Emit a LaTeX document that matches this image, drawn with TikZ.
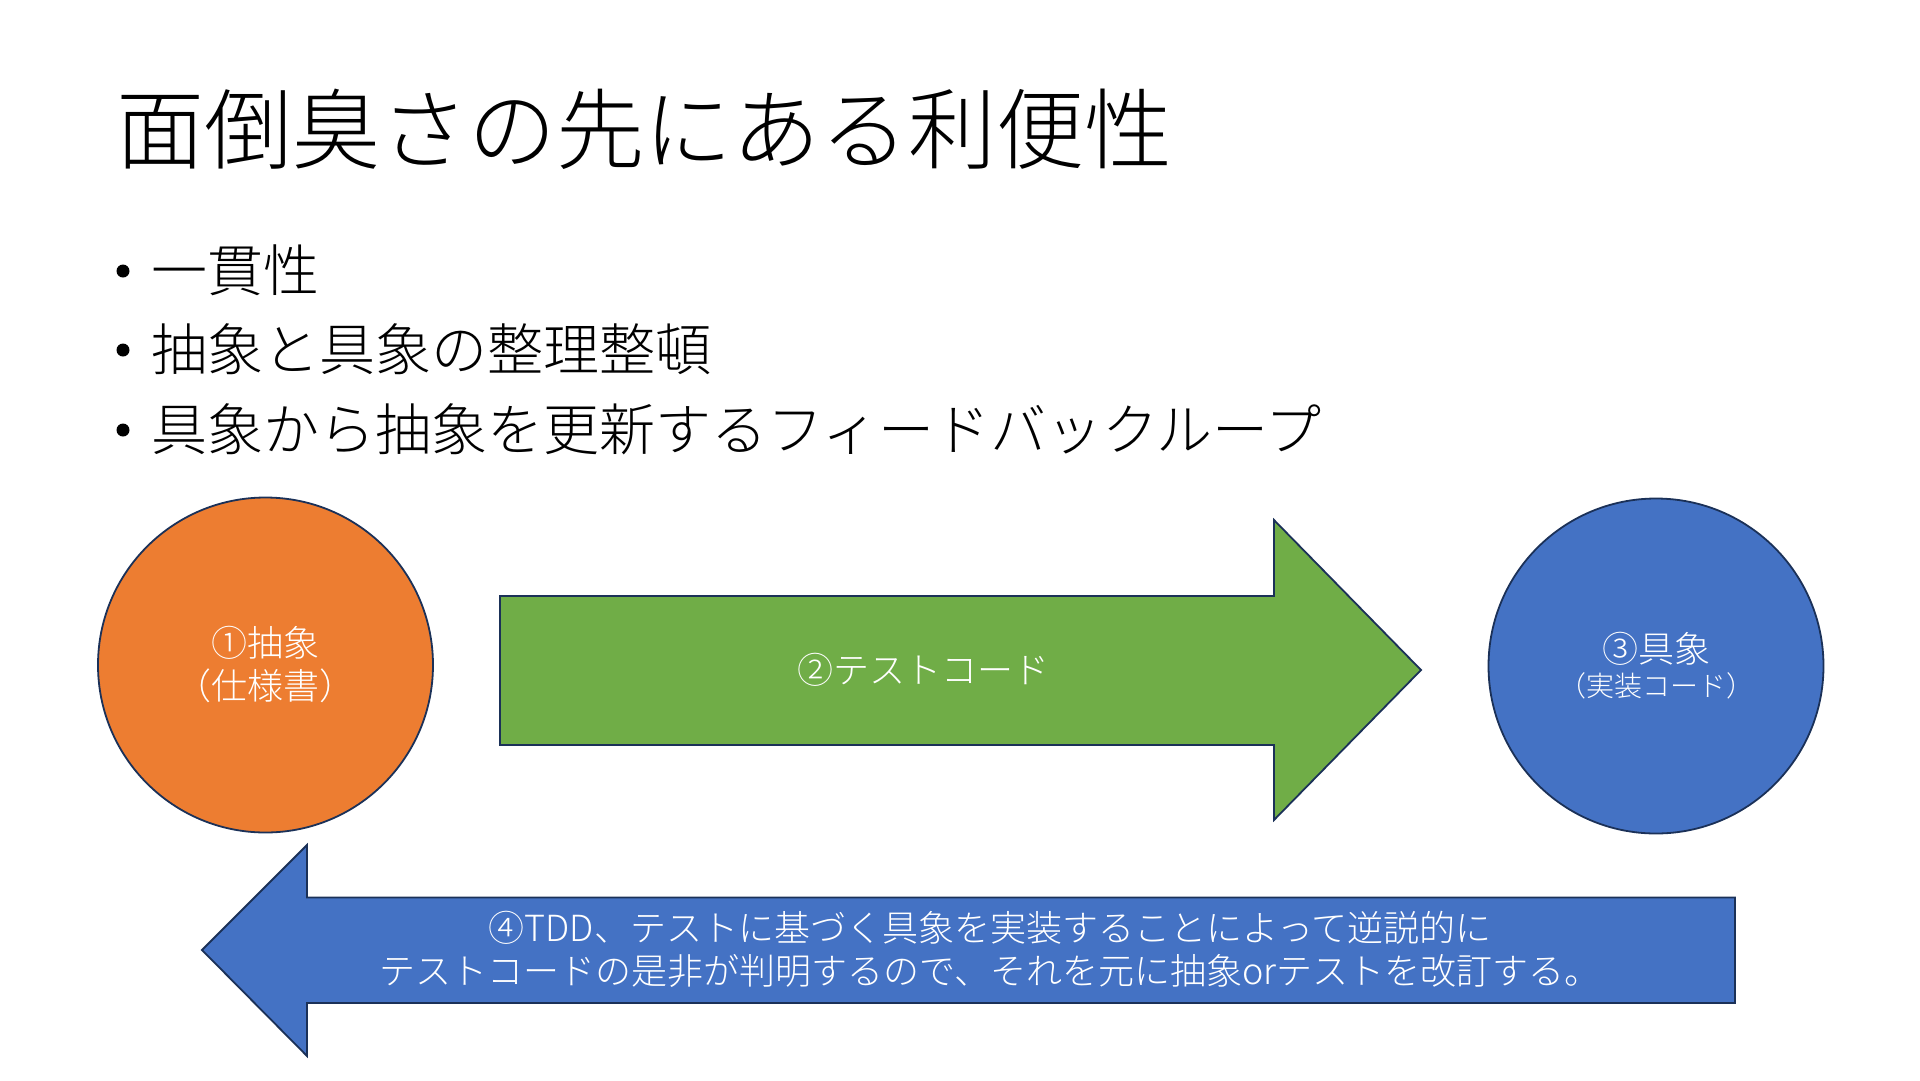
\documentclass[tikz,border=0pt]{standalone}
\usepackage{fontspec}
\setmainfont{Noto Sans CJK JP Light}
\definecolor{orangeF}{HTML}{ED7D31}
\definecolor{greenF}{HTML}{70AD47}
\definecolor{blueF}{HTML}{4472C4}
\definecolor{edgeC}{HTML}{1B3158}
\tikzset{
  shapeline/.style={draw=edgeC, line width=1.8pt, line join=miter},
  bigcircle/.style={circle, shapeline, minimum size=335pt, inner sep=0pt, text=white, align=center, font=\fontsize{36}{43}\selectfont},
  arrowtext/.style={text=white, align=center, inner sep=0pt, font=\fontsize{36}{43}\selectfont},
  bullettext/.style={anchor=west, inner sep=0pt, font=\fontsize{56}{60}\selectfont},
  bulletdot/.style={circle, fill=black, inner sep=0pt, minimum size=13pt}
}
\begin{document}
\begin{tikzpicture}[x=1pt,y=-1pt]
\useasboundingbox[fill=white] (0,0) rectangle (1920,1080);

% title
\node[anchor=west, inner sep=0pt, font=\fontsize{88}{96}\selectfont] (title) at (116,129) {面倒臭さの先にある利便性};

% bullets
\node[bulletdot] (d1) at (123,271) {};
\node[bullettext] (b1) at (151,270) {一貫性};
\node[bulletdot] (d2) at (123,350) {};
\node[bullettext] (b2) at (151,349) {抽象と具象の整理整頓};
\node[bulletdot] (d3) at (123,430) {};
\node[bullettext] (b3) at (151,429) {具象から抽象を更新するフィードバックループ};

% circles
\node[bigcircle, fill=orangeF] (abstract) at (265.5,665) {①抽象\\（仕様書）};
\node[bigcircle, fill=blueF] (concrete) at (1656,666) {③具象\\[-9pt]\fontsize{28}{34}\selectfont（実装コード）};

% green arrow
\coordinate (gA) at (500,596);
\coordinate (gB) at (1274,596);
\coordinate (gC) at (1274,520);
\coordinate (gTip) at (1421,670);
\coordinate (gD) at (1274,820);
\coordinate (gE) at (1274,745);
\coordinate (gF) at (500,745);
\filldraw[shapeline, fill=greenF] (gA) -- (gB) -- (gC) -- (gTip) -- (gD) -- (gE) -- (gF) -- cycle;
\node[arrowtext] (testcode) at (923,670) {②テストコード};

% blue arrow
\coordinate (bTip) at (202,950);
\coordinate (bA) at (307,845);
\coordinate (bB) at (307,897.5);
\coordinate (bC) at (1735,897.5);
\coordinate (bD) at (1735,1003);
\coordinate (bE) at (307,1003);
\coordinate (bF) at (307,1056);
\filldraw[shapeline, fill=blueF] (bTip) -- (bA) -- (bB) -- (bC) -- (bD) -- (bE) -- (bF) -- cycle;
\node[arrowtext] (feedback) at (990,949) {④TDD、テストに基づく具象を実装することによって逆説的に\\テストコードの是非が判明するので、それを元に抽象orテストを改訂する。};
\end{tikzpicture}
\end{document}
